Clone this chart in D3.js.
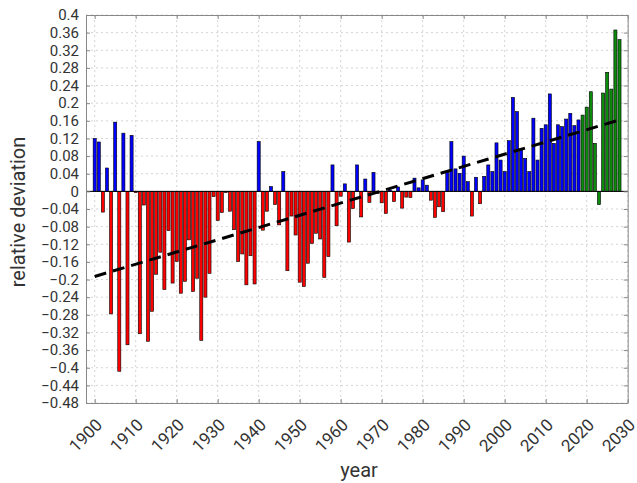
<!DOCTYPE html>
<head>
  <meta charset="utf-8">
  <style>
    body { margin: 0; background: #fff; }
    svg text { font-family: Roboto, "Liberation Sans", sans-serif; fill: #333; }
    svg .grid line { stroke: #d4d4d4; stroke-width: 1px; stroke-dasharray: 2,3; }
    svg .tick text { font-size: 17px; }
    svg .y-axis .tick text { font-size: 15px; }
    svg .bar { stroke: #000; stroke-width: 0.6px; }
  </style>
</head>
<body>
<script src="https://d3js.org/d3.v7.min.js"></script>
<script>
  // yearly relative deviation, 1900 .. 2028
  var years = d3.range(1900, 2029);
  var values = [
     0.120,  0.112, -0.047,  0.053, -0.278,  0.157, -0.408,  0.132, -0.348,  0.127,  // 1900s
    -0.003, -0.323, -0.031, -0.340, -0.272, -0.188, -0.138, -0.223, -0.089, -0.208,  // 1910s
    -0.159, -0.231, -0.204, -0.110, -0.227, -0.197, -0.338, -0.240, -0.186, -0.012,  // 1920s
    -0.066, -0.048, -0.003, -0.045, -0.087, -0.159, -0.142, -0.212, -0.146, -0.210,  // 1930s
     0.113, -0.088, -0.045,  0.011, -0.030, -0.076,  0.045, -0.180, -0.056, -0.099,  // 1940s
    -0.206, -0.216, -0.163, -0.118, -0.095, -0.108, -0.195, -0.148,  0.060, -0.078,  // 1950s
    -0.011,  0.017, -0.115, -0.039,  0.060, -0.058,  0.028, -0.025,  0.043, -0.005,  // 1960s
    -0.026, -0.050,  0.003, -0.023,  0.010, -0.038, -0.013, -0.014,  0.030,  0.008,  // 1970s
     0.026,  0.014, -0.020, -0.059, -0.035, -0.046,  0.045,  0.113,  0.051,  0.041,  // 1980s
     0.080,  0.022, -0.056,  0.032, -0.028,  0.034,  0.060,  0.045,  0.110,  0.071,  // 1990s
     0.045,  0.115,  0.213,  0.181,  0.095,  0.075,  0.045,  0.166,  0.071,  0.143,  // 2000s
     0.151,  0.221,  0.109,  0.151,  0.147,  0.164,  0.177,  0.149,  0.162,  0.173,  // 2010s
     0.191,  0.226,  0.109, -0.030,  0.223,  0.270,  0.232,  0.366,  0.344           // 2020s
  ];
  var lastObserved = 2018;                       // bars after this year are green
  var trend = [[1900, -0.193], [2028, 0.162]];   // linear trend end points
  var xTicks = d3.range(1900, 2031, 10);
  var yTicks = [0.4, 0.36, 0.32, 0.28, 0.24, 0.2, 0.16, 0.12, 0.08, 0.04, 0,
                -0.04, -0.08, -0.12, -0.16, -0.2, -0.24, -0.28, -0.32, -0.36, -0.4, -0.44, -0.48];

  var W = 637, H = 483;
  var pLeft = 86, pTop = 15, pRight = 627.7, pBottom = 403;

  var svg = d3.select("body").append("svg")
      .attr("width", W)
      .attr("height", H);

  var x = d3.scaleLinear().domain([1897.88, 2030]).range([pLeft, pRight]);
  var y = d3.scaleLinear().domain([-0.48, 0.4]).range([pBottom, pTop]);
  var barW = 0.75 * (x(1) - x(0));

  // grid
  var grid = svg.append("g").classed("grid", true);
  grid.selectAll("line.h").data(yTicks).enter().append("line")
      .attr("class", "h")
      .attr("x1", pLeft).attr("x2", pRight)
      .attr("y1", function(d) { return y(d); })
      .attr("y2", function(d) { return y(d); });
  grid.selectAll("line.v").data(xTicks).enter().append("line")
      .attr("class", "v")
      .attr("y1", pTop).attr("y2", pBottom)
      .attr("x1", function(d) { return x(d); })
      .attr("x2", function(d) { return x(d); });

  // bars
  svg.append("g")
    .selectAll("rect").data(years).enter().append("rect")
      .classed("bar", true)
      .attr("x", function(d) { return x(d) - barW / 2; })
      .attr("width", barW)
      .attr("y", function(d, i) { return y(Math.max(0, values[i])); })
      .attr("height", function(d, i) { return Math.abs(y(values[i]) - y(0)); })
      .style("fill", function(d, i) {
        if (d > lastObserved) return "#0b8a0b";
        return values[i] >= 0 ? "#0000ff" : "#ff0000";
      });

  // zero line
  svg.append("line")
      .attr("x1", pLeft).attr("x2", pRight)
      .attr("y1", y(0)).attr("y2", y(0))
      .style("stroke", "#000").style("stroke-width", "1px");

  // trend
  svg.append("path")
      .datum(trend)
      .attr("d", d3.line().x(function(d) { return x(d[0]); }).y(function(d) { return y(d[1]); }))
      .style("fill", "none")
      .style("stroke", "#000")
      .style("stroke-width", "3px")
      .style("stroke-dasharray", "12,7");

  // axes (ticks point inward, box all round)
  var xAxis = svg.append("g")
      .attr("transform", "translate(0," + pBottom + ")")
      .call(d3.axisBottom(x).tickValues(xTicks).tickSize(-4).tickSizeOuter(0).tickFormat(d3.format("d")));
  xAxis.selectAll(".tick text")
      .attr("y", 0)
      .attr("dy", 0)
      .attr("transform", "translate(8,23) rotate(-45)")
      .style("text-anchor", "end");

  svg.append("g")
      .classed("y-axis", true)
      .attr("transform", "translate(" + pLeft + ",0)")
      .call(d3.axisLeft(y).tickValues(yTicks).tickSize(-4).tickSizeOuter(0).tickPadding(7)
        .tickFormat(function(d) { return d3.format("~g")(+d.toFixed(2)); }));

  svg.append("g")
      .attr("transform", "translate(0," + pTop + ")")
      .call(d3.axisTop(x).tickValues(xTicks).tickSize(-4).tickSizeOuter(0).tickFormat(""));
  svg.append("g")
      .attr("transform", "translate(" + pRight + ",0)")
      .call(d3.axisRight(y).tickValues(yTicks).tickSize(-4).tickSizeOuter(0).tickFormat(""));

  svg.selectAll(".domain, .tick line").style("stroke", "#888");

  // labels
  svg.append("text")
      .attr("x", 359)
      .attr("y", 477)
      .style("text-anchor", "middle")
      .style("font-size", "20px")
      .text("year");
  svg.append("text")
      .attr("transform", "translate(25,212) rotate(-90)")
      .style("text-anchor", "middle")
      .style("font-size", "20px")
      .text("relative deviation");
</script>
</body>
</html>
